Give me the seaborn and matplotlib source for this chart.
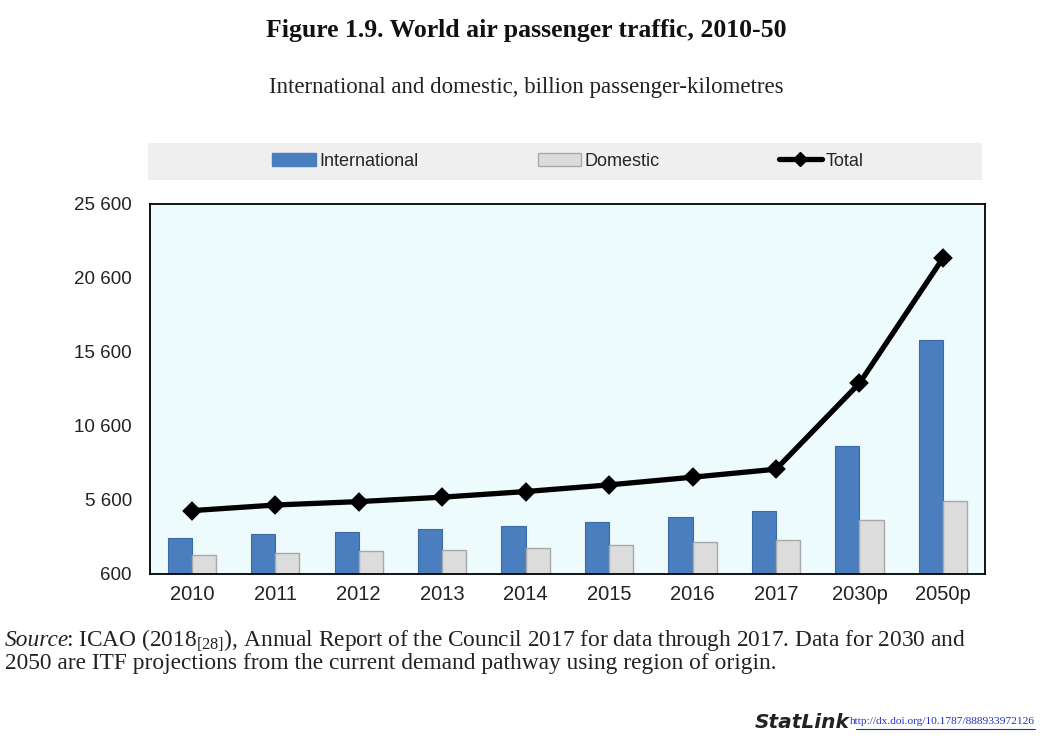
import matplotlib
matplotlib.use("Agg")
import matplotlib.pyplot as plt
import matplotlib.ticker as mticker
from matplotlib.patches import Rectangle, Patch
from matplotlib.lines import Line2D
import seaborn as sns
import pandas as pd
import numpy as np

years = ["2010", "2011", "2012", "2013", "2014", "2015", "2016", "2017", "2030p", "2050p"]
international = [3010, 3280, 3460, 3620, 3870, 4140, 4470, 4860, 9270, 16420]
domestic = [1880, 2040, 2130, 2220, 2340, 2560, 2740, 2900, 4250, 5560]
total = [4880, 5260, 5490, 5790, 6170, 6620, 7140, 7680, 13490, 21940]
yticks = [600, 5600, 10600, 15600, 20600, 25600]

sns.set_theme(style="white")
plt.rcParams['font.family'] = ['Liberation Sans', 'DejaVu Sans']
plt.rcParams['mathtext.fontset'] = 'custom'
plt.rcParams['mathtext.rm'] = 'Liberation Serif'

df = pd.DataFrame({
    "year": years * 2,
    "value": international + domestic,
    "type": ["International"] * len(years) + ["Domestic"] * len(years),
})

fig = plt.figure(figsize=(10.42, 7.41), dpi=100)
fig.patch.set_facecolor("white")
ax = fig.add_axes([0.144, 0.2254, 0.801, 0.4993])
ax.set_facecolor("#eefbfd")

blue = "#4a7ebf"
grey = "#dcdcdc"
sns.barplot(data=df, x="year", y="value", hue="type", order=years,
            hue_order=["International", "Domestic"],
            palette={"International": blue, "Domestic": grey},
            width=0.58, ax=ax, legend=False, saturation=1)
for i, p in enumerate(ax.patches):
    if i >= len(years):
        p.set_edgecolor("#a8a8a8")
        p.set_linewidth(1.0)
    else:
        p.set_edgecolor("#3a6aa8")
        p.set_linewidth(0.8)

sns.pointplot(x=years, y=total, order=years, color="black", markers="D",
              linestyles="-", ax=ax, markersize=7, linewidth=3.8)

ax.set_ylim(600, 25600)
ax.set_xlim(-0.5, len(years) - 0.5)
ax.set_yticks(yticks)
ax.yaxis.set_major_formatter(mticker.FuncFormatter(lambda v, p: f"{int(v):,}".replace(",", " ")))
ax.set_xlabel("")
ax.set_ylabel("")
ax.tick_params(axis="y", direction="in", length=4, width=1, color="black",
               labelsize=13.5, pad=13, labelcolor="#222222")
ax.tick_params(axis="x", which="major", length=0, labelsize=14.5, pad=8, labelcolor="#222222")
ax.set_xticks(np.arange(0.5, len(years) - 1, 1.0), minor=True)
ax.tick_params(axis="x", which="minor", direction="in", length=5, width=1.2, color="black")
for s in ax.spines.values():
    s.set_color("black")
    s.set_linewidth(1.3)

# legend band
fig.patches.append(Rectangle((148 / 1042, 1 - 180 / 741), 834 / 1042, 37 / 741,
                             transform=fig.transFigure, facecolor="#efefef",
                             edgecolor="none", zorder=0))
handles = [Patch(facecolor=blue, edgecolor=blue),
           Patch(facecolor=grey, edgecolor="#a8a8a8"),
           Line2D([0], [0], color="black", lw=3.8, marker="D", markersize=7)]
fig.legend(handles, ["International", "Domestic", "Total"], ncol=3,
           loc="center", bbox_to_anchor=(568 / 1042, 1 - 161 / 741),
           frameon=False, fontsize=13, handlelength=2.4, handleheight=0.7,
           handletextpad=0.2, columnspacing=6.6)

serif = ['Liberation Serif', 'DejaVu Serif']
fig.text(0.505, 1 - 30 / 741, "Figure 1.9. World air passenger traffic, 2010-50",
         ha="center", va="center", fontsize=18.5, fontweight="bold", family=serif,
         color="#111111")
fig.text(0.505, 1 - 88 / 741, "International and domestic, billion passenger-kilometres",
         ha="center", va="center", fontsize=16.5, family=serif, color="#222222")

fig.canvas.draw()
renderer = fig.canvas.get_renderer()
src = fig.text(5 / 1042, 1 - 641 / 741, "Source", ha="left", va="center", fontsize=16.8,
               style="italic", family=serif, color="#222222")
bb = src.get_window_extent(renderer)
fig.text((bb.x1 - 3) / 1042, 1 - 641 / 741,
         r": ICAO (2018$_{[28]}$), Annual Report of the Council 2017 for data through 2017. Data for 2030 and",
         ha="left", va="center", fontsize=16.8, family=serif, color="#222222")
fig.text(5 / 1042, 1 - 663 / 741,
         "2050 are ITF projections from the current demand pathway using region of origin.",
         ha="left", va="center", fontsize=16.8, family=serif, color="#222222")

fig.text(850 / 1042, 1 - 722 / 741, "StatLink", ha="right", va="center", fontsize=14.5,
         fontweight="bold", style="italic", family=['DejaVu Sans', 'Liberation Sans'],
         color="#222222")
fig.text(1035 / 1042, 1 - 721 / 741, "http://dx.doi.org/10.1787/888933972126",
         ha="right", va="center", fontsize=8.2, family=serif, color="#2030c0")
fig.add_artist(Line2D([856 / 1042, 1035 / 1042], [1 - 729 / 741, 1 - 729 / 741],
                      transform=fig.transFigure, color="#2030c0", lw=0.8))

fig.savefig("out.png", dpi=100)
